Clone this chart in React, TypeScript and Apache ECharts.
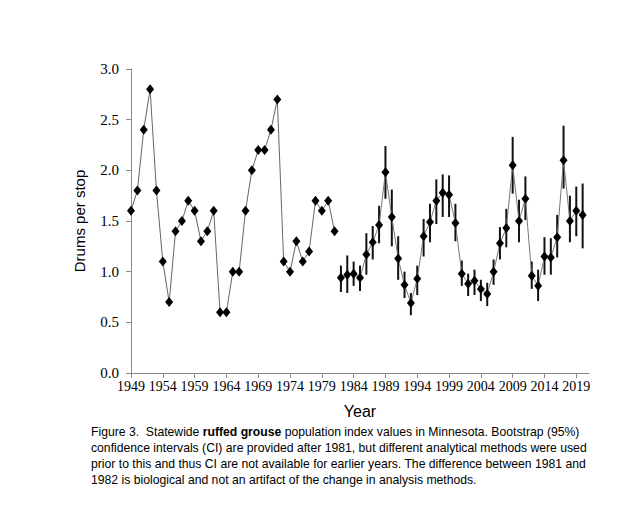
import React, { useEffect, useRef } from 'react';
import * as echarts from 'echarts';

const earlyYears = Array.from({ length: 33 }, (_, i) => 1949 + i);
const earlyValues = [1.6, 1.8, 2.4, 2.8, 1.8, 1.1, 0.7, 1.4, 1.5, 1.7, 1.6, 1.3, 1.4, 1.6, 0.6, 0.6, 1.0, 1.0, 1.6, 2.0, 2.2, 2.2, 2.4, 2.7, 1.1, 1.0, 1.3, 1.1, 1.2, 1.7, 1.6, 1.7, 1.4];

const lateYears = Array.from({ length: 39 }, (_, i) => 1982 + i);
const lateValues = [0.94, 0.97, 0.98, 0.94, 1.17, 1.29, 1.46, 1.98, 1.54, 1.13, 0.87, 0.69, 0.93, 1.35, 1.49, 1.7, 1.78, 1.76, 1.48, 0.98, 0.88, 0.91, 0.83, 0.78, 1.0, 1.28, 1.43, 2.05, 1.5, 1.72, 0.96, 0.86, 1.15, 1.14, 1.34, 2.1, 1.5, 1.6, 1.56];
const ciHigh = [1.06, 1.16, 1.1, 1.06, 1.38, 1.45, 1.65, 2.24, 1.81, 1.35, 1.0, 0.79, 1.06, 1.52, 1.67, 1.91, 1.96, 1.95, 1.67, 1.11, 0.98, 1.02, 0.92, 0.89, 1.12, 1.44, 1.62, 2.33, 1.71, 1.94, 1.1, 1.02, 1.34, 1.33, 1.56, 2.44, 1.75, 1.84, 1.87];
const ciLow = [0.8, 0.79, 0.86, 0.81, 0.97, 1.12, 1.28, 1.72, 1.25, 0.92, 0.74, 0.57, 0.77, 1.15, 1.29, 1.47, 1.54, 1.54, 1.3, 0.86, 0.76, 0.77, 0.71, 0.66, 0.87, 1.12, 1.24, 1.77, 1.29, 1.51, 0.83, 0.71, 0.97, 0.97, 1.14, 1.82, 1.29, 1.35, 1.23];

const captionLines = [
  'confidence intervals (CI) are provided after 1981, but different analytical methods were used',
  'prior to this and thus CI are not available for earlier years. The difference between 1981 and',
  '1982 is biological and not an artifact of the change in analysis methods.',
];

const App: React.FC = () => {
  const chartRef = useRef<HTMLDivElement>(null);

  useEffect(() => {
    document.body.style.margin = '0';
    if (!chartRef.current) return;
    const chart = echarts.init(chartRef.current, null, { renderer: 'svg' });
    const serif = 'Liberation Serif';
    const sans = 'Liberation Sans';

    const option: echarts.EChartsOption = {
      animation: false,
      backgroundColor: '#fff',
      grid: { left: 131, right: 51, top: 69, bottom: 137 },
      xAxis: {
        type: 'value',
        min: 1949,
        max: 2021,
        interval: 5,
        name: 'Year',
        nameLocation: 'middle',
        nameGap: 30,
        nameTextStyle: { fontFamily: sans, fontSize: 16, color: '#000' },
        axisLine: { lineStyle: { color: '#888' } },
        axisTick: { show: true, lineStyle: { color: '#888' }, length: 5 },
        axisLabel: {
          fontFamily: serif, fontSize: 14, color: '#000', margin: 6,
          showMaxLabel: false,
          formatter: (v: number) => String(v),
        },
        splitLine: { show: false },
      },
      yAxis: {
        type: 'value',
        min: 0,
        max: 3,
        interval: 0.5,
        name: 'Drums per stop',
        nameLocation: 'middle',
        nameGap: 44,
        nameTextStyle: { fontFamily: sans, fontSize: 15, color: '#000' },
        axisLine: { show: true, lineStyle: { color: '#888' } },
        axisTick: { show: true, lineStyle: { color: '#888' }, length: 5 },
        axisLabel: {
          fontFamily: serif, fontSize: 15, color: '#000', margin: 12,
          formatter: (v: number) => v.toFixed(1),
        },
        splitLine: { show: false },
      },
      series: [
        {
          type: 'line',
          data: earlyYears.map((y, i) => [y, earlyValues[i]]),
          symbol: 'diamond',
          symbolSize: [8, 10],
          lineStyle: { color: '#666', width: 1 },
          itemStyle: { color: '#000' },
        },
        {
          type: 'custom',
          data: lateYears.map((y, i) => [y, ciLow[i], ciHigh[i]]),
          renderItem: (params: any, api: any) => {
            const lo = api.coord([api.value(0), api.value(1)]);
            const hi = api.coord([api.value(0), api.value(2)]);
            return {
              type: 'line',
              shape: { x1: lo[0], y1: lo[1], x2: hi[0], y2: hi[1] },
              style: { stroke: '#111', lineWidth: 2 },
            };
          },
          z: 1,
        },
        {
          type: 'line',
          data: lateYears.map((y, i) => [y, lateValues[i]]),
          symbol: 'diamond',
          symbolSize: [8, 10],
          lineStyle: { color: '#777', width: 1 },
          itemStyle: { color: '#000' },
          z: 3,
        },
      ],
      graphic: [
        {
          type: 'text',
          left: 91,
          top: 426,
          style: {
            text: 'Figure 3.  Statewide {b|ruffed grouse} population index values in Minnesota. Bootstrap (95%)',
            fontFamily: sans,
            fontSize: 12.2,
            fill: '#000',
            rich: { b: { fontWeight: 'bold', fontFamily: sans, fontSize: 12.2, fill: '#000' } },
          },
        },
        ...captionLines.map((t, i) => ({
          type: 'text' as const,
          left: 91,
          top: 442 + i * 16,
          style: { text: t, fontFamily: sans, fontSize: 12.2, fill: '#000' },
        })),
      ],
    };

    chart.setOption(option);
    return () => chart.dispose();
  }, []);

  return <div ref={chartRef} style={{ width: 640, height: 510 }} />;
};

export default App;
